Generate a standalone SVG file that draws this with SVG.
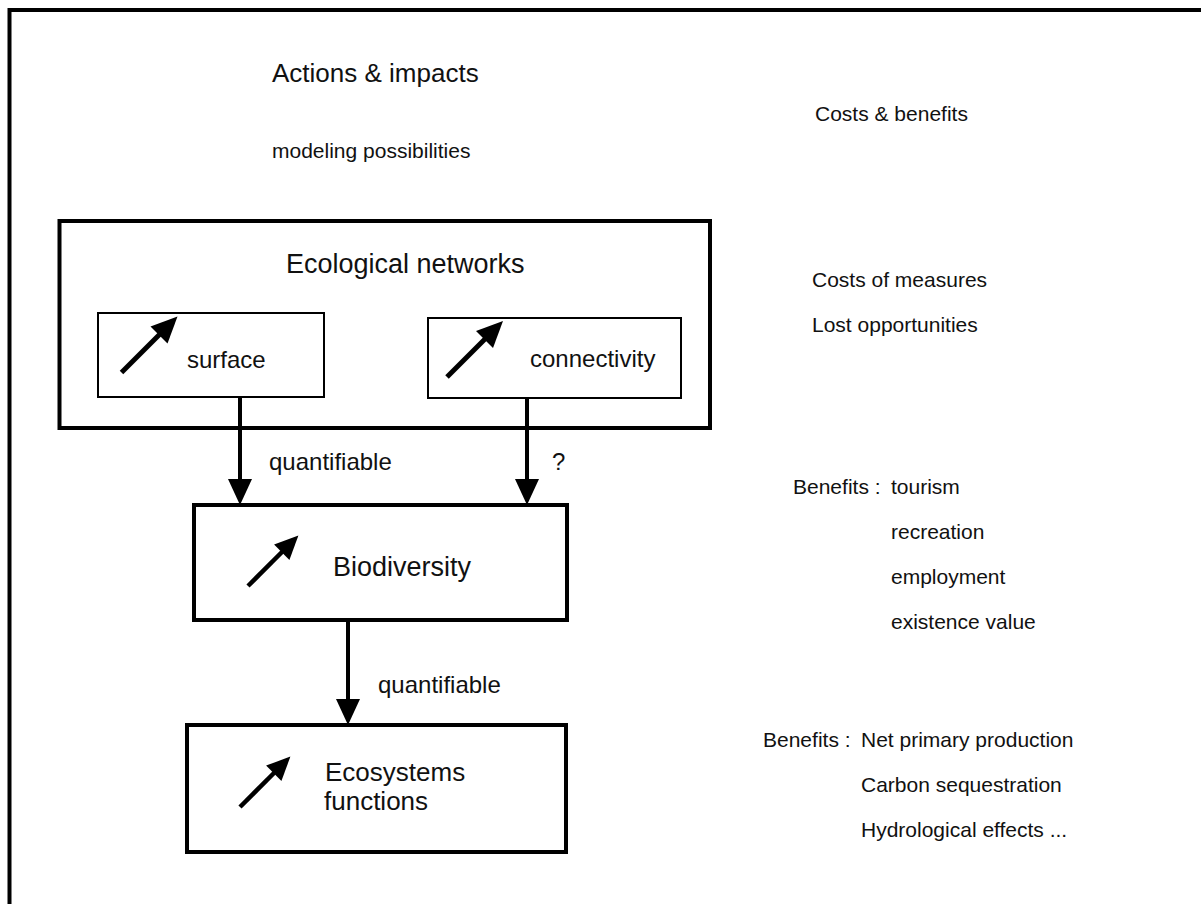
<svg xmlns="http://www.w3.org/2000/svg" width="1201" height="904" viewBox="0 0 1201 904">
<style>
  .t { font-family: "Liberation Sans", Arial, Helvetica, sans-serif; fill: #111; }
  .big { font-size: 27px; }
  .mid { font-size: 24px; }
  .sm { font-size: 21px; }
  .thick { fill: #fff; stroke: #000; stroke-width: 4; }
  .thin { fill: #fff; stroke: #000; stroke-width: 2; }
  .conn { stroke: #000; stroke-width: 4; fill: none; }
</style>
<defs>
  <marker id="ah" markerUnits="userSpaceOnUse" viewBox="0 0 26 24" markerWidth="26" markerHeight="24" refX="14" refY="12" orient="auto">
    <path d="M0,0 L26,12 L0,24 Z" fill="#000"/>
  </marker>
  <g id="up">
    <line x1="0" y1="0" x2="40" y2="-40" stroke="#000" stroke-width="5"/>
    <polygon points="56,-56 29,-46 46,-29" fill="#000"/>
  </g>
</defs>
<rect width="1201" height="904" fill="#fff"/>
<rect id="frame" x="9.5" y="10" width="1200" height="900" fill="none" stroke="#000" stroke-width="4"/>

<g id="header">
  <text class="t" x="272" y="82" font-size="26">Actions &amp; impacts</text>
  <text class="t sm" x="272" y="158">modeling possibilities</text>
  <text class="t sm" x="815" y="121">Costs &amp; benefits</text>
</g>

<g id="node-ecological-networks">
  <rect class="thick" x="59.5" y="221" width="650.5" height="207"/>
  <text class="t big" x="286" y="273">Ecological networks</text>
</g>
<g id="node-surface">
  <rect class="thin" x="98" y="313" width="226" height="84"/>
  <use href="#up" x="121.5" y="372.6"/>
  <text class="t mid" x="187" y="368">surface</text>
</g>
<g id="node-connectivity">
  <rect class="thin" x="428" y="318" width="253" height="80"/>
  <use href="#up" x="447" y="377"/>
  <text class="t mid" x="530" y="367">connectivity</text>
</g>
<g id="node-biodiversity">
  <rect class="thick" x="194" y="505" width="373" height="115"/>
  <use href="#up" transform="translate(248,586) scale(0.9)"/>
  <text class="t big" x="333" y="576">Biodiversity</text>
</g>
<g id="node-ecosystems">
  <rect class="thick" x="187" y="725" width="379" height="127"/>
  <use href="#up" transform="translate(240,807) scale(0.9)"/>
  <text class="t" font-size="26" x="325" y="781">Ecosystems</text>
  <text class="t" font-size="26" x="324" y="810">functions</text>
</g>

<g id="connectors">
  <line class="conn" x1="240" y1="397" x2="240" y2="493" marker-end="url(#ah)"/>
  <line class="conn" x1="527" y1="398" x2="527" y2="493" marker-end="url(#ah)"/>
  <line class="conn" x1="348" y1="620" x2="348" y2="713" marker-end="url(#ah)"/>
  <text class="t mid" x="269" y="470">quantifiable</text>
  <text class="t mid" x="552" y="470">?</text>
  <text class="t mid" x="378" y="693">quantifiable</text>
</g>

<g id="costs">
  <text class="t sm" x="812" y="287">Costs of measures</text>
  <text class="t sm" x="812" y="332">Lost opportunities</text>
</g>
<g id="benefits-biodiversity">
  <text class="t sm" x="793" y="494">Benefits :</text>
  <text class="t sm" x="891" y="494">tourism</text>
  <text class="t sm" x="891" y="539">recreation</text>
  <text class="t sm" x="891" y="584">employment</text>
  <text class="t sm" x="891" y="629">existence value</text>
</g>
<g id="benefits-ecosystems">
  <text class="t sm" x="763" y="747">Benefits :</text>
  <text class="t sm" x="861" y="747">Net primary production</text>
  <text class="t sm" x="861" y="792">Carbon sequestration</text>
  <text class="t sm" x="861" y="837">Hydrological effects ...</text>
</g>
</svg>
